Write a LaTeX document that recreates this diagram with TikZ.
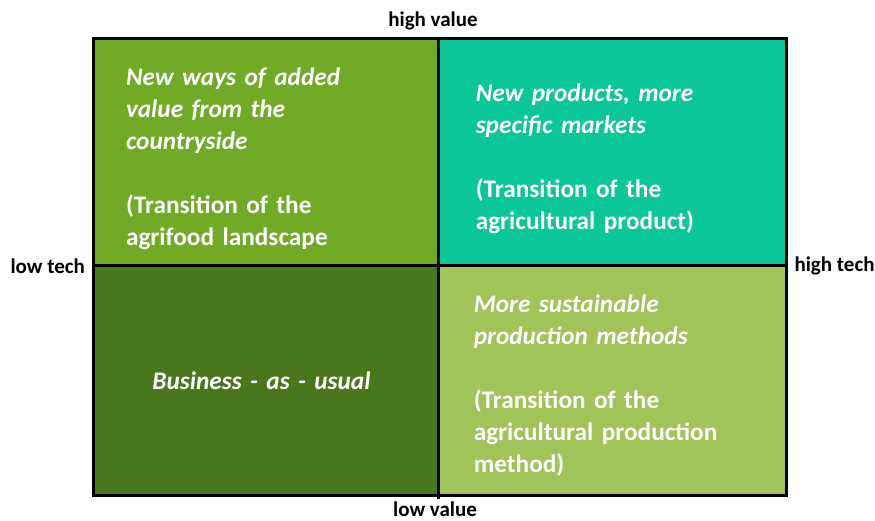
\documentclass[tikz,border=0pt]{standalone}
\usepackage{fontspec}
\setmainfont{Carlito}
\usepackage{xcolor}
\usetikzlibrary{positioning}

\definecolor{valueGreen}{RGB}{112,170,38}
\definecolor{productTeal}{RGB}{11,198,150}
\definecolor{usualGreen}{RGB}{74,119,30}
\definecolor{methodGreen}{RGB}{160,195,90}

\tikzset{
	quadrant/.style={minimum width=345pt, minimum height=227pt, inner sep=0pt, outer sep=0pt, anchor=north west},
	quadtext/.style={text width=275pt, inner sep=0pt, align=left, text=white,
		font=\fontsize{25.3}{32}\selectfont\bfseries},
	axislabel/.style={font=\fontsize{21}{24}\selectfont\bfseries, inner sep=0pt, outer sep=0pt},
	gridline/.style={line width=3pt, black},
}

\begin{document}
\begin{tikzpicture}[x=1pt, y=-1pt] % value / tech matrix
		\useasboundingbox (0,0) rectangle (875,521);
		
		% quadrants
		\node[quadrant, fill=valueGreen] (tl) at (93,39) {};
		\node[quadrant, fill=productTeal, minimum width=348.5pt, right=0pt of tl] (tr) {};
		\node[quadrant, fill=usualGreen, minimum height=229.5pt, below=0pt of tl] (bl) {};
		\node[quadrant, fill=methodGreen, minimum width=348.5pt, minimum height=229.5pt, below=0pt of tr] (br) {};
		
		% quadrant texts
		\node[quadtext, xshift=-2pt, yshift=-6pt] (tlText) at (tl.center)
			{\textit{New ways of added\\value from the\\countryside}\\[32pt](Transition of the\\agrifood landscape};
		\node[quadtext, xshift=1pt, yshift=-6pt] (trText) at (tr.center)
			{\textit{New products, more\\specific markets}\\[32pt](Transition of the\\agricultural product)};
		\node[quadtext, align=center, xshift=-4pt] (blText) at (bl.center)
			{\textit{Business - as - usual}};
		\node[quadtext, xshift=-1pt, yshift=-5pt] (brText) at (br.center)
			{\textit{More sustainable\\production methods}\\[32pt](Transition of the\\agricultural production\\method)};
		
		% grid lines
		\draw[gridline] (tl.north west) rectangle (br.south east);
		\draw[gridline] (tl.north east) -- ([yshift=-3pt]bl.south east);
		\draw[gridline] (tl.south west) -- (tr.south east);
		
		% axis labels
		\node[axislabel, above=9pt of tl.north east, xshift=-5pt] (highValue) {high value};
		\node[axislabel, below=6pt of bl.south east, xshift=-3pt] (lowValue) {low value};
		\node[axislabel, left=8pt of tl.south west] (lowTech) {low tech};
		\node[axislabel, right=8pt of tr.south east] (highTech) {high tech};
\end{tikzpicture}
\end{document}
